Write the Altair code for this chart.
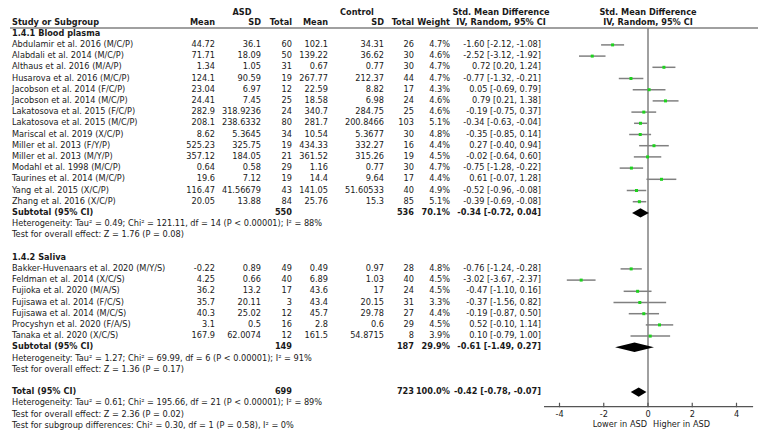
import altair as alt
import pandas as pd

# ---------------- data ----------------
plasma_studies = ["Abdulamir et al. 2016 (M/C/P)", "Alabdali et al. 2014 (M/C/P)", "Althaus et al. 2016 (M/A/P)",
                  "Husarova et al. 2016 (M/C/P)", "Jacobson et al. 2014 (F/C/P)", "Jacobson et al. 2014 (M/C/P)",
                  "Lakatosova et al. 2015 (F/C/P)", "Lakatosova et al. 2015 (M/C/P)", "Mariscal et al. 2019 (X/C/P)",
                  "Miller et al. 2013 (F/Y/P)", "Miller et al. 2013 (M/Y/P)", "Modahl et al. 1998 (M/C/P)",
                  "Taurines et al. 2014 (M/C/P)", "Yang et al. 2015 (X/C/P)", "Zhang et al. 2016 (X/C/P)"]
plasma_asd_mean = ["44.72", "71.71", "1.34", "124.1", "23.04", "24.41", "282.9", "208.1", "8.62", "525.23", "357.12", "0.64", "19.6", "116.47", "20.05"]
plasma_asd_sd = ["36.1", "18.09", "1.05", "90.59", "6.97", "7.45", "318.9236", "238.6332", "5.3645", "325.75", "184.05", "0.58", "7.12", "41.56679", "13.88"]
plasma_asd_n = [60, 50, 31, 19, 12, 25, 24, 80, 34, 19, 21, 29, 19, 43, 84]
plasma_ctl_mean = ["102.1", "139.22", "0.67", "267.77", "22.59", "18.58", "340.7", "281.7", "10.54", "434.33", "361.52", "1.16", "14.4", "141.05", "25.76"]
plasma_ctl_sd = ["34.31", "36.62", "0.77", "212.37", "8.82", "6.98", "284.75", "200.8466", "5.3677", "332.27", "315.26", "0.77", "9.64", "51.60533", "15.3"]
plasma_ctl_n = [26, 30, 30, 44, 17, 24, 25, 103, 30, 16, 19, 30, 17, 40, 85]
plasma_weight = [4.7, 4.6, 4.7, 4.7, 4.3, 4.6, 4.6, 5.1, 4.8, 4.4, 4.5, 4.7, 4.4, 4.9, 5.1]
plasma_smd = [-1.60, -2.52, 0.72, -0.77, 0.05, 0.79, -0.19, -0.34, -0.35, 0.27, -0.02, -0.75, 0.61, -0.52, -0.39]
plasma_lo = [-2.12, -3.12, 0.20, -1.32, -0.69, 0.21, -0.75, -0.63, -0.85, -0.40, -0.64, -1.28, -0.07, -0.96, -0.69]
plasma_hi = [-1.08, -1.92, 1.24, -0.21, 0.79, 1.38, 0.37, -0.04, 0.14, 0.94, 0.60, -0.22, 1.28, -0.08, -0.08]

saliva_studies = ["Bakker-Huvenaars et al. 2020 (M/Y/S)", "Feldman et al. 2014 (X/C/S)", "Fujioka et al. 2020 (M/A/S)",
                  "Fujisawa et al. 2014 (F/C/S)", "Fujisawa et al. 2014 (M/C/S)", "Procyshyn et al. 2020 (F/A/S)",
                  "Tanaka et al. 2020 (X/C/S)"]
saliva_asd_mean = ["-0.22", "4.25", "36.2", "35.7", "40.3", "3.1", "167.9"]
saliva_asd_sd = ["0.89", "0.66", "13.2", "20.11", "25.02", "0.5", "62.0074"]
saliva_asd_n = [49, 40, 17, 3, 12, 16, 12]
saliva_ctl_mean = ["0.49", "6.89", "43.6", "43.4", "45.7", "2.8", "161.5"]
saliva_ctl_sd = ["0.97", "1.03", "17", "20.15", "29.78", "0.6", "54.8715"]
saliva_ctl_n = [28, 40, 24, 31, 27, 29, 8]
saliva_weight = [4.8, 4.5, 4.5, 3.3, 4.4, 4.5, 3.9]
saliva_smd = [-0.76, -3.02, -0.47, -0.37, -0.19, 0.52, 0.10]
saliva_lo = [-1.24, -3.67, -1.10, -1.56, -0.87, -0.10, -0.79]
saliva_hi = [-0.28, -2.37, 0.16, 0.82, 0.50, 1.14, 1.00]

summary_labels = ["Subtotal (95% CI)", "Subtotal (95% CI)", "Total (95% CI)"]
summary_asd_n = [550, 149, 699]
summary_ctl_n = [536, 187, 723]
summary_weight = ["70.1%", "29.9%", "100.0%"]
summary_est = [-0.34, -0.61, -0.42]
summary_lo = [-0.72, -1.49, -0.78]
summary_hi = [0.04, 0.27, -0.07]

plasma_notes = ["Heterogeneity: Tau\u00b2 = 0.49; Chi\u00b2 = 121.11, df = 14 (P < 0.00001); I\u00b2 = 88%",
                "Test for overall effect: Z = 1.76 (P = 0.08)"]
saliva_notes = ["Heterogeneity: Tau\u00b2 = 1.27; Chi\u00b2 = 69.99, df = 6 (P < 0.00001); I\u00b2 = 91%",
                "Test for overall effect: Z = 1.36 (P = 0.17)"]
total_notes = ["Heterogeneity: Tau\u00b2 = 0.61; Chi\u00b2 = 195.66, df = 21 (P < 0.00001); I\u00b2 = 89%",
               "Test for overall effect: Z = 2.36 (P = 0.02)",
               "Test for subgroup differences: Chi\u00b2 = 0.30, df = 1 (P = 0.58), I\u00b2 = 0%"]

axis_ticks = [-4, -2, 0, 2, 4]
axis_labels = ["-4", "-2", "0", "2", "4"]
axis_ends = [-4.7, 4.75]
direction_labels = ["Lower in ASD", "Higher in ASD"]

# ---------------- layout ----------------
FONT = "DejaVu Sans"
FS = 8.2
TXT = "#1a1a1a"
GRAY = "#808080"
W, H = 750, 426
ROW_STEP = 11.2
ROW0_Y = 3.3
M = 8  # page margin
HEADER0_ROW = 0.15
HEADER1_ROW = 1.05
COLS = {
    "study": (12, "left"), "asd_mean": (215, "right"), "asd_sd": (261, "right"), "asd_n": (292, "right"),
    "ctl_mean": (328, "right"), "ctl_sd": (384, "right"), "ctl_n": (414, "right"), "weight": (450, "right"),
    "ci": (541, "right"), "hdr_asd": (242, "center"), "hdr_ctl": (357, "center"), "hdr_ci": (501, "center"),
    "hdr_forest": (648, "center"),
}
HEADER_ROW_LINE = 1.5
AXIS_ROW = 35.3

y_lo = -ROW0_Y / ROW_STEP
y_hi = (H - ROW0_Y) / ROW_STEP
yscale = alt.Scale(domain=[y_lo, y_hi], reverse=True, nice=False, zero=False)
PX_PER = (737 - 560) / 8.0
ZERO_X = 648 - M
xscale = alt.Scale(domain=[-ZERO_X / PX_PER, (W - ZERO_X) / PX_PER], nice=False, zero=False)


def ci_text(e, l, h):
    return f"{e:.2f} [{l:.2f}, {h:.2f}]"


cells = []


def add(row, col, text, bold=False):
    cells.append({"row": row, "col": col, "label": str(text), "bold": bold})


add(HEADER0_ROW, "hdr_asd", "ASD", True)
add(HEADER0_ROW, "hdr_ctl", "Control", True)
add(HEADER0_ROW, "hdr_ci", "Std. Mean Difference", True)
add(HEADER0_ROW, "hdr_forest", "Std. Mean Difference", True)
for c, t in [("study", "Study or Subgroup"), ("asd_mean", "Mean"), ("asd_sd", "SD"), ("asd_n", "Total"),
             ("ctl_mean", "Mean"), ("ctl_sd", "SD"), ("ctl_n", "Total"), ("weight", "Weight"),
             ("hdr_ci", "IV, Random, 95% CI"), ("hdr_forest", "IV, Random, 95% CI")]:
    add(HEADER1_ROW, c, t, True)

forest_rows = []


def add_group(start, title, studies, am, asd, an, cm, csd, cn, w, e, lo, hi):
    add(start, "study", title, True)
    for i in range(len(studies)):
        r = start + 1 + i
        add(r, "study", studies[i])
        add(r, "asd_mean", am[i]); add(r, "asd_sd", asd[i]); add(r, "asd_n", an[i])
        add(r, "ctl_mean", cm[i]); add(r, "ctl_sd", csd[i]); add(r, "ctl_n", cn[i])
        add(r, "weight", f"{w[i]:.1f}%")
        add(r, "ci", ci_text(e[i], lo[i], hi[i]))
        forest_rows.append({"row": r, "est": e[i], "lo": lo[i], "hi": hi[i], "w": w[i]})
    return start + 1 + len(studies)


r = add_group(2, "1.4.1 Blood plasma", plasma_studies, plasma_asd_mean, plasma_asd_sd, plasma_asd_n,
              plasma_ctl_mean, plasma_ctl_sd, plasma_ctl_n, plasma_weight, plasma_smd, plasma_lo, plasma_hi)
sum_rows = [r]
add(r + 1, "study", plasma_notes[0]); add(r + 2, "study", plasma_notes[1])
r = add_group(r + 4, "1.4.2 Saliva", saliva_studies, saliva_asd_mean, saliva_asd_sd, saliva_asd_n,
              saliva_ctl_mean, saliva_ctl_sd, saliva_ctl_n, saliva_weight, saliva_smd, saliva_lo, saliva_hi)
sum_rows.append(r)
add(r + 1, "study", saliva_notes[0]); add(r + 2, "study", saliva_notes[1])
sum_rows.append(r + 4)
for k, t in enumerate(total_notes):
    add(r + 5 + k, "study", t)

diamonds = []
for k, sr in enumerate(sum_rows):
    add(sr, "study", summary_labels[k], True)
    add(sr, "asd_n", summary_asd_n[k], True)
    add(sr, "ctl_n", summary_ctl_n[k], True)
    add(sr, "weight", summary_weight[k], True)
    add(sr, "ci", ci_text(summary_est[k], summary_lo[k], summary_hi[k]), True)
    for xv, half in [(summary_lo[k], 0.0), (summary_est[k], 0.42), (summary_hi[k], 0.0)]:
        diamonds.append({"g": k, "x": xv, "yt": sr - half, "yb": sr + half})

cells_df = pd.DataFrame(cells)
forest_df = pd.DataFrame(forest_rows)
diam_df = pd.DataFrame(diamonds)
ticks_df = pd.DataFrame({"t": axis_ticks, "lab": axis_labels,
                         "r1": [AXIS_ROW - 0.35] * 5, "r2": [AXIS_ROW + 0.05] * 5, "rl": [AXIS_ROW + 0.75] * 5})
hline_df = pd.DataFrame({"row": [HEADER_ROW_LINE]})
zero_df = pd.DataFrame({"x0": [0.0], "r1": [HEADER_ROW_LINE], "r2": [AXIS_ROW]})
axis_df = pd.DataFrame({"xa": [axis_ends[0]], "xb": [axis_ends[1]], "row": [AXIS_ROW]})
dir_df = pd.DataFrame({"lab": direction_labels, "row": [AXIS_ROW + 1.6] * 2})

Y = lambda f: alt.Y(f, scale=yscale, axis=None)
X = lambda f: alt.X(f, scale=xscale, axis=None)

layers = []
for col, (xp, al) in COLS.items():
    for b in (False, True):
        sub = cells_df[(cells_df.col == col) & (cells_df.bold == b)]
        if len(sub) == 0:
            continue
        layers.append(
            alt.Chart(sub).mark_text(align=al, baseline="middle", font=FONT, fontSize=FS,
                                     fontWeight="bold" if b else "normal", color=TXT)
            .encode(x=alt.value(xp - M), y=Y("row:Q"), text="label:N")
        )

layers.append(alt.Chart(hline_df).mark_rule(color=GRAY, strokeWidth=1.5)
              .encode(x=alt.value(10 - M), x2=alt.value(W), y=Y("row:Q")))
layers.append(alt.Chart(zero_df).mark_rule(color=GRAY, strokeWidth=1.5)
              .encode(x=X("x0:Q"), y=Y("r1:Q"), y2="r2:Q"))
layers.append(alt.Chart(forest_df).mark_rule(color=GRAY, strokeWidth=1.5)
              .encode(x=X("lo:Q"), x2="hi:Q", y=Y("row:Q")))
layers.append(alt.Chart(forest_df).mark_square(color="#1ed21e", opacity=1, size=9)
              .encode(x=X("est:Q"), y=Y("row:Q")))
layers.append(alt.Chart(diam_df).mark_area(orient="vertical", color="black", opacity=1)
              .encode(x=X("x:Q"), y=Y("yt:Q"), y2="yb:Q", detail="g:N"))
layers.append(alt.Chart(axis_df).mark_rule(color="#555555", strokeWidth=1.2)
              .encode(x=X("xa:Q"), x2="xb:Q", y=Y("row:Q")))
layers.append(alt.Chart(ticks_df).mark_rule(color="#555555", strokeWidth=1.2)
              .encode(x=X("t:Q"), y=Y("r1:Q"), y2="r2:Q"))
layers.append(alt.Chart(ticks_df).mark_text(baseline="middle", font=FONT, fontSize=FS, color=TXT)
              .encode(x=X("t:Q"), y=Y("rl:Q"), text="lab:N"))
layers.append(alt.Chart(dir_df.iloc[[0]]).mark_text(align="right", baseline="middle", font=FONT, fontSize=FS, color=TXT)
              .encode(x=alt.value(647 - M), y=Y("row:Q"), text="lab:N"))
layers.append(alt.Chart(dir_df.iloc[[1]]).mark_text(align="left", baseline="middle", font=FONT, fontSize=FS, color=TXT)
              .encode(x=alt.value(653 - M), y=Y("row:Q"), text="lab:N"))

chart = alt.layer(*layers).properties(
    width=W, height=H, padding=0, autosize=alt.AutoSizeParams(type="none"), background="white"
).configure_view(stroke=None)

chart.save("out.html", embed_options={"renderer": "svg", "actions": False})
